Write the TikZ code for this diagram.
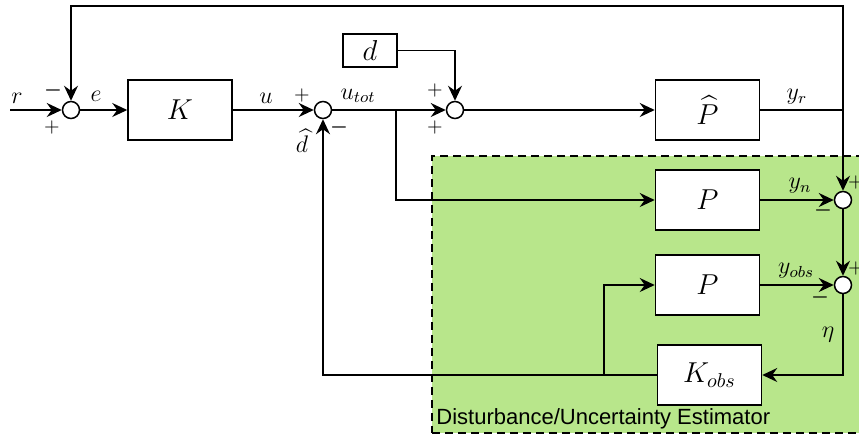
\documentclass[tikz,border=0pt]{standalone}
\usepackage{amsmath,amssymb}
\usepackage{fontspec}
\newfontfamily\labelsans{Liberation Sans}
\usepackage{xcolor}
\usepackage{tikz}
\usetikzlibrary{arrows.meta, positioning, calc}
\definecolor{estgreen}{RGB}{184, 230, 139}

\begin{document}
\begin{tikzpicture}[
    x=0.5pt, y=-0.5pt,
    block/.style={rectangle, draw, fill=white, line width=0.75pt, minimum width=52pt, minimum height=30pt, font=\Large},
    sumnode/.style={circle, draw, fill=white, line width=0.75pt, minimum size=8.5pt, inner sep=0pt},
    sig/.style={line width=0.75pt},
    arr/.style={sig, -{Stealth[length=7.5pt, width=7pt, inset=2.5pt]}},
    lbl/.style={inner sep=0pt, font=\large},
    sgn/.style={inner sep=0pt, font=\normalsize}
]
\useasboundingbox (0,0) rectangle (859,435);

% Estimator region
\node[draw, dash pattern=on 4pt off 2.5pt, line width=0.75pt, fill=estgreen, minimum width=224pt, minimum height=138.5pt, inner sep=0pt] (est) at (656,294.5) {};
\node[anchor=base west, inner sep=0pt, font=\labelsans\fontsize{11}{13}\selectfont] (esttitle) at (436,424) {Disturbance/Uncertainty Estimator};

% Blocks
\node[block] (K) at (180,110) {$K$};
\node[block, minimum width=27pt, minimum height=16.5pt] (dbox) at (370,50.5) {$d$};
\node[block] (Phat) at (707.5,110) {$\widehat{P}$};
\node[block] (P1) at (707.5,200) {$P$};
\node[block] (P2) at (707.5,285) {$P$};
\node[block] (Kobs) at (709.5,375) {$K_{obs}$};

% Summing junctions
\node[sumnode] (sumE) at (71,110) {};
\node[sumnode] (sumU) at (323,110) {};
\node[sumnode] (sumD) at (455,110) {};
\node[sumnode] (sumN) at (843,200) {};
\node[sumnode] (sumO) at (843,285) {};

% Branch points
\coordinate (rin) at (10,110);
\coordinate (utj) at (396,110);
\coordinate (yrj) at (843,110);
\coordinate (topR) at (843,6);
\coordinate (br) at (604,375);

% Signals
\draw[arr] (rin) -- (sumE);
\draw[arr] (sumE) -- (K);
\draw[arr] (K) -- (sumU);
\draw[sig] (sumU) -- (utj);
\draw[arr] (utj) -- (sumD);
\draw[arr] (sumD) -- (Phat);
\draw[arr] (dbox) -| (sumD);
\draw[arr] (utj) |- (P1);
\draw[sig] (Phat) -- (yrj);
\draw[arr] (yrj) -- (topR) -| (sumE);
\draw[arr] (yrj) -- (sumN);
\draw[arr] (P1) -- (sumN);
\draw[arr] (P2) -- (sumO);
\draw[arr] (sumN) -- (sumO);
\draw[arr] (sumO) |- (Kobs);
\draw[arr] (Kobs) -| (sumU);
\draw[arr] (br) |- (P2);

% Signal labels
\node[lbl] (lr) at (17,98) {$r$};
\node[lbl] (le) at (96,96) {$e$};
\node[lbl] (lu) at (266,98) {$u$};
\node[lbl] (lutot) at (358,96) {$u_{tot}$};
\node[lbl] (ldhat) at (302,141) {$\widehat{d}$};
\node[lbl] (lyr) at (797,97) {$y_r$};
\node[lbl] (lyn) at (800,186) {$y_n$};
\node[lbl] (lyobs) at (796,271) {$y_{obs}$};
\node[lbl] (leta) at (828,335) {$\eta$};

% Signs
\node[sgn] (sE1) at (53,90) {$\boldsymbol{-}$};
\node[sgn] (sE2) at (52,127) {$+$};
\node[sgn] (sU1) at (302,95) {$+$};
\node[sgn] (sU2) at (339,127) {$\boldsymbol{-}$};
\node[sgn] (sD1) at (435,90) {$+$};
\node[sgn] (sD2) at (435,127) {$+$};
\node[sgn] (sN1) at (856,182) {$+$};
\node[sgn] (sN2) at (823,210) {$\boldsymbol{-}$};
\node[sgn] (sO1) at (856,268) {$+$};
\node[sgn] (sO2) at (820,297) {$\boldsymbol{-}$};
\end{tikzpicture}
\end{document}
